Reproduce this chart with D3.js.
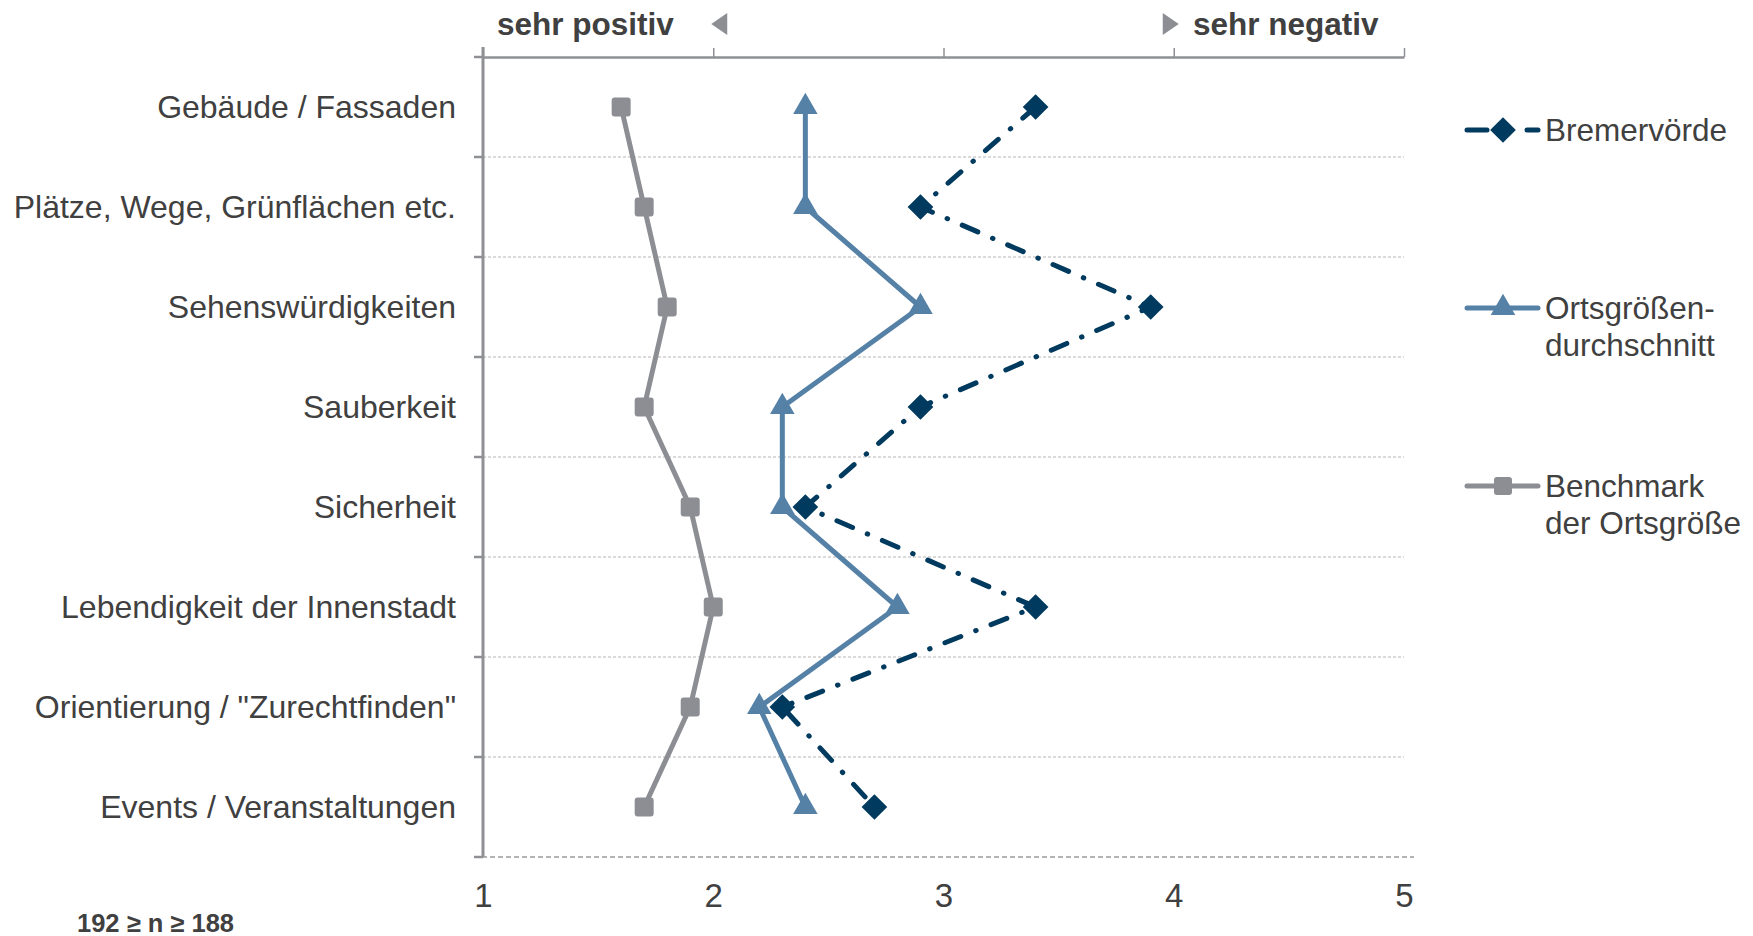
<!DOCTYPE html>
<html>
<head>
<meta charset="utf-8">
<script src="https://cdn.jsdelivr.net/npm/d3@7/dist/d3.min.js"></script>
<style>
  html, body { margin: 0; padding: 0; background: #ffffff; }
  svg { display: block; }
  text { font-family: "Liberation Sans", Arial, sans-serif; fill: #404040; }
</style>
</head>
<body>
<svg id="chart" width="1753" height="936"></svg>
<script>
// ---- data ----
const categories = [
  "Gebäude / Fassaden",
  "Plätze, Wege, Grünflächen etc.",
  "Sehenswürdigkeiten",
  "Sauberkeit",
  "Sicherheit",
  "Lebendigkeit der Innenstadt",
  "Orientierung / \"Zurechtfinden\"",
  "Events / Veranstaltungen"
];
const bremervoerde = [3.4, 2.9, 3.9, 2.9, 2.4, 3.4, 2.3, 2.7];
const ortsgroessenDurchschnitt = [2.4, 2.4, 2.9, 2.3, 2.3, 2.8, 2.2, 2.4];
const benchmarkOrtsgroesse = [1.6, 1.7, 1.8, 1.7, 1.9, 2.0, 1.9, 1.7];
const xTicks = [1, 2, 3, 4, 5];
const seriesNames = ["Bremervörde", ["Ortsgrößen-", "durchschnitt"], ["Benchmark", "der Ortsgröße"]];
const topLabels = ["sehr positiv", "sehr negativ"];
const footnote = "192 ≥ n ≥ 188";

// ---- styles ----
const cDark = "#003a5e", cBlue = "#5581a7", cGray = "#8c8e93", cAxis = "#8f9094", cText = "#404040";

const svg = d3.select("#chart");
const x = d3.scaleLinear().domain([1, 5]).range([483, 1404]);
const y = d3.scaleBand().domain(categories).range([57, 857]).paddingInner(0).paddingOuter(0);
const yc = d => y(d) + y.bandwidth() / 2;

// gridlines (interior band boundaries)
const bounds = categories.map(c => y(c)).concat([y.range()[1]]);
svg.append("g").selectAll("line").data(bounds.slice(1, -1)).join("line")
  .attr("x1", x(1)).attr("x2", x(5)).attr("y1", d => d).attr("y2", d => d)
  .attr("stroke", "#b5b5b5").attr("stroke-width", 1).attr("stroke-dasharray", "3,2");

// bottom dashed line
svg.append("line").attr("x1", x(1) - 9).attr("x2", x(5) + 10)
  .attr("y1", y.range()[1]).attr("y2", y.range()[1])
  .attr("stroke", "#9a9a9a").attr("stroke-width", 1.5).attr("stroke-dasharray", "5,3");

// top axis
const topAxis = svg.append("g").attr("transform", `translate(0,${y.range()[0]})`)
  .call(d3.axisTop(x).tickValues(xTicks).tickSize(9).tickFormat("").tickSizeOuter(0));
topAxis.select(".domain").attr("stroke", cAxis).attr("stroke-width", 2.5);
topAxis.selectAll(".tick line").attr("stroke", cAxis).attr("stroke-width", 1.5);

// left axis line + boundary ticks
svg.append("line").attr("x1", x(1)).attr("x2", x(1)).attr("y1", y.range()[0] - 10).attr("y2", y.range()[1])
  .attr("stroke", cAxis).attr("stroke-width", 3);
svg.append("g").selectAll("line").data(bounds).join("line")
  .attr("x1", x(1) - 9).attr("x2", x(1)).attr("y1", d => d).attr("y2", d => d)
  .attr("stroke", cAxis).attr("stroke-width", 2.5);

// category labels
svg.append("g").selectAll("text").data(categories).join("text")
  .attr("x", 456).attr("y", d => yc(d)).attr("text-anchor", "end")
  .attr("dominant-baseline", "central").attr("font-size", 32).text(d => d);

// bottom x tick labels
const bottomAxis = svg.append("g").attr("transform", `translate(0,${y.range()[1]})`)
  .call(d3.axisBottom(x).tickValues(xTicks).tickSize(0).tickFormat(d3.format("d")));
bottomAxis.select(".domain").remove();
bottomAxis.selectAll("text")
  .attr("y", 38).attr("dy", "0.35em")
  .style("font-family", "\"Liberation Sans Narrow\", \"Arial Narrow\", \"Liberation Sans\", sans-serif")
  .style("font-stretch", "condensed")
  .attr("font-size", 33).attr("fill", cText);

// top labels with arrows
svg.append("text").attr("x", 497).attr("y", 35).attr("font-size", 31.5).attr("font-weight", "bold").text(topLabels[0]);
svg.append("text").attr("x", 1193).attr("y", 35).attr("font-size", 31.5).attr("font-weight", "bold").text(topLabels[1]);
const tri = (x0, dir) => dir < 0
  ? `M${x0 + 16},13 L${x0 + 16},35 L${x0},24 Z`
  : `M${x0},13 L${x0},35 L${x0 + 16},24 Z`;
svg.append("path").attr("d", tri(x(2) - 2, -1)).attr("fill", cGray);
svg.append("path").attr("d", tri(x(4) - 11, 1)).attr("fill", cGray);

// footnote
svg.append("text").attr("x", 77).attr("y", 932).attr("font-size", 25.5).attr("font-weight", "bold").text(footnote);

// ---- series ----
const line = d3.line().x(d => x(d.v)).y(d => yc(d.c));
const toPts = arr => arr.map((v, i) => ({ c: categories[i], v }));

const squareSym = d3.symbol().type(d3.symbolSquare).size(19 * 19);
const triSym = d3.symbol().type(d3.symbolTriangle).size(260);
const diamondSym = d3.symbol().type(d3.symbolDiamond2).size(420);

function drawSeries(data, color, dash, sym, rounded) {
  const g = svg.append("g");
  g.append("path").datum(toPts(data)).attr("d", line)
    .attr("fill", "none").attr("stroke", color).attr("stroke-width", 5)
    .attr("stroke-linejoin", "round").attr("stroke-linecap", dash ? "round" : "butt")
    .attr("stroke-dasharray", dash || null);
  if (rounded) {
    g.selectAll("rect").data(toPts(data)).join("rect")
      .attr("x", d => x(d.v) - 9.5).attr("y", d => yc(d.c) - 9.5)
      .attr("width", 19).attr("height", 19).attr("rx", 3).attr("fill", color);
  } else {
    g.selectAll("path.m").data(toPts(data)).join("path").attr("class", "m")
      .attr("transform", d => `translate(${x(d.v)},${yc(d.c)})`)
      .attr("d", sym).attr("fill", color);
  }
}
drawSeries(benchmarkOrtsgroesse, cGray, null, squareSym, true);
drawSeries(ortsgroessenDurchschnitt, cBlue, null, triSym, false);
drawSeries(bremervoerde, cDark, "17,16,0.5,16", diamondSym, false);

// ---- legend ----
const lg = svg.append("g");
const lx1 = 1467, lx2 = 1538, lmid = 1503, ltx = 1545;
const legendY = [130, 308, 486];
// Bremervörde
lg.append("line").attr("x1", lx1).attr("x2", 1487).attr("y1", legendY[0]).attr("y2", legendY[0])
  .attr("stroke", cDark).attr("stroke-width", 5).attr("stroke-linecap", "round");
lg.append("line").attr("x1", 1527).attr("x2", lx2).attr("y1", legendY[0]).attr("y2", legendY[0])
  .attr("stroke", cDark).attr("stroke-width", 5).attr("stroke-linecap", "round");
lg.append("path").attr("transform", `translate(${lmid},${legendY[0]})`).attr("d", diamondSym).attr("fill", cDark);
// Ortsgrößen
lg.append("line").attr("x1", lx1).attr("x2", lx2).attr("y1", legendY[1]).attr("y2", legendY[1])
  .attr("stroke", cBlue).attr("stroke-width", 5).attr("stroke-linecap", "round");
lg.append("path").attr("transform", `translate(${lmid},${legendY[1]})`).attr("d", triSym).attr("fill", cBlue);
// Benchmark
lg.append("line").attr("x1", lx1).attr("x2", lx2).attr("y1", legendY[2]).attr("y2", legendY[2])
  .attr("stroke", cGray).attr("stroke-width", 5).attr("stroke-linecap", "round");
lg.append("rect").attr("x", lmid - 9).attr("y", legendY[2] - 9).attr("width", 18).attr("height", 18)
  .attr("rx", 3).attr("fill", cGray);

seriesNames.forEach((nm, i) => {
  const lines = Array.isArray(nm) ? nm : [nm];
  lines.forEach((t, j) => {
    lg.append("text").attr("x", ltx).attr("y", legendY[i] + j * 37)
      .attr("dominant-baseline", "central").attr("font-size", 31.5).text(t);
  });
});
</script>
</body>
</html>
